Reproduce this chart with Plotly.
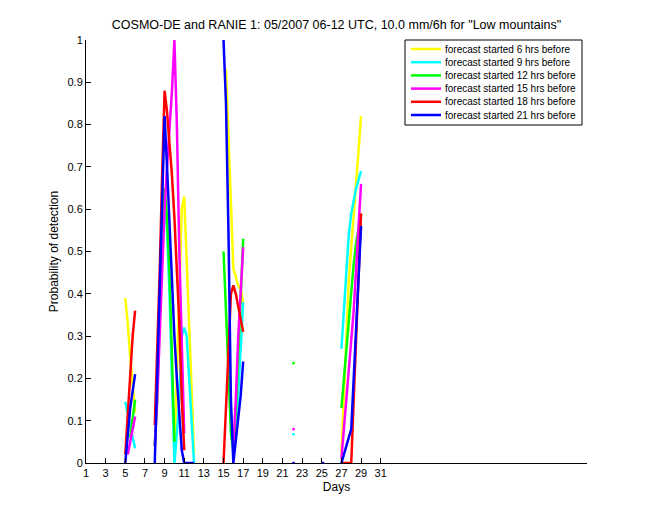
import plotly.graph_objects as go

# ---- data (x in days, 6-hourly steps; None = gap) ----
yellow_x = [5, 5.25, 5.5, 5.75, 6, None,
            10, 10.25, 10.5, 10.75, 11, 11.25, 11.5, 11.75, 12, None,
            15.25, 15.5, 15.75, 16, 16.25, 16.5, 16.75, 17, None,
            27, 27.25, 27.5, 27.75, 28, 28.25, 28.5, 28.75, 29]
yellow_y = [0.39, 0.33, 0.25, 0.18, 0.12, None,
            0.02, 0.2, 0.42, 0.6, 0.63, 0.47, 0.3, 0.15, 0.02, None,
            0.93, 0.78, 0.62, 0.46, 0.44, 0.42, 0.41, 0.38, None,
            0.02, 0.16, 0.3, 0.43, 0.51, 0.58, 0.65, 0.74, 0.82]

cyan_x = [5, 5.25, 5.5, 5.75, 6, None,
          8.5, 8.75, 9, 9.25, 9.5, 9.75, 10, 10.25, 10.5, 10.75, 11, 11.25, 11.5, 11.75, 12, None,
          16.25, 16.5, 16.75, 17, None,
          22, 22.25, None,
          27, 27.25, 27.5, 27.75, 28, 28.25, 28.5, 28.75, 29]
cyan_y = [0.145, 0.12, 0.09, 0.06, 0.035, None,
          0.35, 0.5, 0.62, 0.55, 0.4, 0.2, 0.0, 0.07, 0.15, 0.3, 0.32, 0.3, 0.2, 0.1, 0.0, None,
          0.06, 0.16, 0.28, 0.38, None,
          0.068, 0.068, None,
          0.27, 0.36, 0.45, 0.54, 0.59, 0.62, 0.65, 0.67, 0.69]

green_x = [5.5, 5.75, 6, None,
           8, 8.25, 8.5, 8.75, 9, 9.25, 9.5, 9.75, 10, None,
           15, 15.25, 15.5, 15.75, 16, 16.25, 16.5, 16.75, 17, None,
           22, 22.25, None,
           27, 27.25, 27.5, 27.75, 28, 28.25, 28.5, 28.75, 29]
green_y = [0.06, 0.11, 0.15, None,
           0.04, 0.15, 0.35, 0.5, 0.65, 0.58, 0.45, 0.25, 0.05, None,
           0.5, 0.37, 0.22, 0.07, 0.03, 0.12, 0.25, 0.4, 0.53, None,
           0.236, 0.236, None,
           0.13, 0.2, 0.28, 0.35, 0.41, 0.47, 0.52, 0.56, 0.59]

magenta_x = [5.25, 5.5, 5.75, 6, None,
             8, 8.25, 8.5, 8.75, 9, 9.25, 9.5, 9.75, 10, 10.25, 10.5, 10.75, 11, None,
             16, 16.25, 16.5, 16.75, 17, None,
             22, 22.25, None,
             27, 27.25, 27.5, 27.75, 28, 28.25, 28.5, 28.75, 29]
magenta_y = [0.02, 0.05, 0.08, 0.11, None,
             0.04, 0.15, 0.3, 0.45, 0.6, 0.7, 0.78, 0.88, 1.0, 0.8, 0.5, 0.25, 0.07, None,
             0.04, 0.15, 0.3, 0.42, 0.51, None,
             0.08, 0.08, None,
             0.01, 0.08, 0.14, 0.2, 0.28, 0.36, 0.46, 0.56, 0.66]

red_x = [5, 5.25, 5.5, 5.75, 6, None,
         8, 8.25, 8.5, 8.75, 9, 9.25, 9.5, 9.75, 10, 10.25, 10.5, 10.75, 11, None,
         15, 15.25, 15.5, 15.75, 16, 16.25, 16.5, 16.75, 17, None,
         27, 27.25, 27.5, 27.75, 28, 28.25, 28.5, 28.75, 29]
red_y = [0.02, 0.12, 0.22, 0.3, 0.36, None,
         0.09, 0.25, 0.45, 0.68, 0.88, 0.83, 0.76, 0.68, 0.58, 0.47, 0.33, 0.15, 0.03, None,
         0.0, 0.12, 0.26, 0.4, 0.42, 0.4, 0.37, 0.34, 0.31, None,
         0.0, 0.0, 0.0, 0.0, 0.0, 0.15, 0.3, 0.45, 0.59]

blue_x = [5, 5.25, 5.5, 5.75, 6, None,
          8, 8.25, 8.5, 8.75, 9, 9.25, 9.5, 9.75, 10, 10.25, 10.5, 10.75, 11, 11.25, 11.5, 11.75, 12, None,
          15, 15.25, 15.5, 15.75, 16, 16.25, 16.5, 16.75, 17, None,
          22, 22.25, None,
          25, 25.25, None,
          27, 27.25, 27.5, 27.75, 28, 28.25, 28.5, 28.75, 29]
blue_y = [0.0, 0.07, 0.13, 0.17, 0.21, None,
          0.0, 0.2, 0.45, 0.65, 0.82, 0.7, 0.56, 0.42, 0.3, 0.2, 0.1, 0.03, 0.0, 0.0, 0.0, 0.0, 0.0, None,
          1.0, 0.85, 0.55, 0.15, 0.0, 0.05, 0.1, 0.16, 0.24, None,
          0.0, 0.0, None,
          0.0, 0.0, None,
          0.0, 0.02, 0.04, 0.06, 0.08, 0.2, 0.33, 0.45, 0.56]

series_names = ["forecast started 6 hrs before", "forecast started 9 hrs before",
                "forecast started 12 hrs before", "forecast started 15 hrs before",
                "forecast started 18 hrs before", "forecast started 21 hrs before"]
series_colors = ["#ffff00", "#00ffff", "#00ff00", "#ff00ff", "#ff0000", "#0000ff"]
series_x = [yellow_x, cyan_x, green_x, magenta_x, red_x, blue_x]
series_y = [yellow_y, cyan_y, green_y, magenta_y, red_y, blue_y]

x_tickvals = list(range(1, 32, 2))
y_tickvals = [0, 0.1, 0.2, 0.3, 0.4, 0.5, 0.6, 0.7, 0.8, 0.9, 1]
y_ticktext = ["0", "0.1", "0.2", "0.3", "0.4", "0.5", "0.6", "0.7", "0.8", "0.9", "1"]

FONT = "Liberation Sans, Arial, Helvetica, sans-serif"
W, H = 660, 520
ML, MR, MT, MB = 86, 73, 40, 57
PW, PH = W - ML - MR, H - MT - MB


def px_x(p):
    return (p - ML) / PW


def px_y(p):
    return (H - MB - p) / PH


fig = go.Figure()
for name, color, xs, ys in zip(series_names, series_colors, series_x, series_y):
    fig.add_trace(go.Scatter(x=xs, y=ys, mode="lines", name=name,
                             line=dict(color=color, width=2.5),
                             connectgaps=False, showlegend=False))

# MATLAB-style compact legend box (built from the series lists)
shapes = [dict(type="rect", xref="paper", yref="paper",
               x0=px_x(405), x1=px_x(582), y0=px_y(125), y1=px_y(40),
               line=dict(color="black", width=1), fillcolor="white", layer="above")]
annotations = []
row0, row_step = 49, 13.2
for i, (name, color) in enumerate(zip(series_names, series_colors)):
    ry = row0 + i * row_step
    shapes.append(dict(type="line", xref="paper", yref="paper",
                       x0=px_x(411), x1=px_x(441), y0=px_y(ry), y1=px_y(ry),
                       line=dict(color=color, width=2.5), layer="above"))
    annotations.append(dict(text=name, xref="paper", yref="paper",
                            x=px_x(443), y=px_y(ry), xanchor="left", yanchor="middle",
                            showarrow=False, font=dict(family=FONT, size=10, color="black")))

fig.update_layout(
    width=W, height=H,
    margin=dict(l=ML, r=MR, t=MT, b=MB, pad=0),
    paper_bgcolor="white", plot_bgcolor="white",
    font=dict(family=FONT, size=10, color="black"),
    title=dict(text='COSMO-DE and RANIE 1: 05/2007 06-12 UTC, 10.0 mm/6h for "Low mountains"',
               x=336.5 / W, xanchor="center", y=1 - 25 / H, yanchor="middle",
               font=dict(family=FONT, size=12.5, color="black")),
    showlegend=False,
    shapes=shapes,
    annotations=annotations,
)
fig.update_xaxes(range=[1, 52], tickvals=x_tickvals, ticks="inside", ticklen=5,
                 tickcolor="black", showline=True, linecolor="black", linewidth=1,
                 showgrid=False, zeroline=False, mirror=False,
                 tickfont=dict(family=FONT, size=11),
                 title=dict(text="Days", font=dict(family=FONT, size=12), standoff=4))
fig.update_yaxes(range=[0, 1], tickvals=y_tickvals, ticktext=y_ticktext, ticks="inside", ticklen=5,
                 tickcolor="black", showline=True, linecolor="black", linewidth=1,
                 showgrid=False, zeroline=False, mirror=False,
                 tickfont=dict(family=FONT, size=11),
                 title=dict(text="Probability of detection", font=dict(family=FONT, size=12), standoff=6))

fig.write_html("out.html")
